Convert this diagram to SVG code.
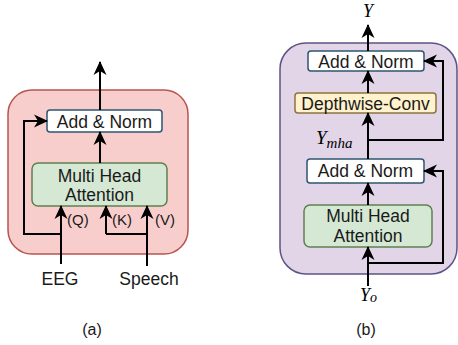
<svg xmlns="http://www.w3.org/2000/svg" width="458" height="345" viewBox="0 0 458 345">
<defs>
<marker id="ah" markerUnits="userSpaceOnUse" markerWidth="14" markerHeight="14" viewBox="0 0 14 14" refX="13" refY="7" orient="auto">
<path d="M0,0.5 L14,7 L0,13.5 L4,7 Z" fill="#000"/>
</marker>
<style>
.t{font-family:"Liberation Sans",Arial,sans-serif;font-size:17.5px;fill:#1a1a1a;text-anchor:middle}
.s{font-family:"Liberation Sans",Arial,sans-serif;font-size:15px;fill:#1a1a1a}
.m{font-family:"Liberation Serif","Times New Roman",serif;font-style:italic;fill:#000}
.an{fill:#fff;stroke:#2e5670;stroke-width:1.5}
.mha{fill:#d5e8d4;stroke:#5f8050;stroke-width:1.5}
.dw{fill:#fff2cc;stroke:#8a7440;stroke-width:1.5}
.c{fill:none;stroke:#000;stroke-width:2}
.ca{fill:none;stroke:#000;stroke-width:2;marker-end:url(#ah)}
</style>
</defs>
<rect width="458" height="345" fill="#fff"/>
<g id="panelA">
<rect x="8" y="90" width="180" height="164" rx="24" fill="#f8cecc" stroke="#b85450" stroke-width="1.5"/>
</g>
<g id="panelB">
<rect x="280" y="43" width="177" height="231" rx="26" fill="#e1d5e7" stroke="#5c5486" stroke-width="1.5"/>
</g>
<g id="a-addnorm">
<rect class="an" x="47" y="110" width="115" height="22" rx="3"/>
<text class="t" x="104.5" y="127.5">Add &amp; Norm</text>
</g>
<g id="a-mha">
<rect class="mha" x="32" y="163" width="135" height="43" rx="6"/>
<text class="t" x="99.5" y="181.5">Multi Head</text>
<text class="t" x="99.5" y="201">Attention</text>
</g>
<g id="b-addnorm1">
<rect class="an" x="308" y="51" width="116" height="20" rx="3"/>
<text class="t" x="366" y="67.5">Add &amp; Norm</text>
</g>
<g id="b-dwconv">
<rect class="dw" x="295" y="93" width="141" height="20" rx="3"/>
<text class="t" x="365.5" y="109.5">Depthwise-Conv</text>
</g>
<g id="b-addnorm2">
<rect class="an" x="307" y="159" width="117" height="24" rx="3"/>
<text class="t" x="365.5" y="177">Add &amp; Norm</text>
</g>
<g id="b-mha">
<rect class="mha" x="304" y="205" width="128" height="42" rx="6"/>
<text class="t" x="368" y="222">Multi Head</text>
<text class="t" x="368" y="242">Attention</text>
</g>
<g id="connectors">
<path class="ca" d="M100,110 V62"/>
<path class="ca" d="M100,163 V132"/>
<path class="ca" d="M61,234 H24 V121 H47"/>
<path class="ca" d="M61,264 V206"/>
<path class="ca" d="M106,234 V206"/>
<path class="c" d="M106,234 H147"/>
<path class="ca" d="M147,266 V206"/>
<path class="ca" d="M368,51 V25"/>
<path class="ca" d="M368,93 V71"/>
<path class="ca" d="M368,159 V113"/>
<path class="ca" d="M368,140 H443 V61 H424"/>
<path class="ca" d="M368,205 V183"/>
<path class="ca" d="M368,286 V247"/>
<path class="ca" d="M368,263 H443 V171 H424"/>
</g>
<g id="labels">
<text class="s" x="67" y="225">(Q)</text>
<text class="s" x="112" y="225">(K)</text>
<text class="s" x="155" y="225">(V)</text>
<text class="t" x="60" y="285">EEG</text>
<text class="t" x="149" y="285">Speech</text>
<text class="m" x="368" y="17" font-size="18" text-anchor="middle">Y</text>
<text class="m" x="316" y="144" font-size="19">Y<tspan font-size="15" dy="4">mha</tspan></text>
<text class="m" x="360" y="301" font-size="18">Y<tspan font-size="14" dy="1">o</tspan></text>
<text class="t" x="92" y="335" style="font-size:16px">(a)</text>
<text class="t" x="366" y="335" style="font-size:16px">(b)</text>
</g>
</svg>
